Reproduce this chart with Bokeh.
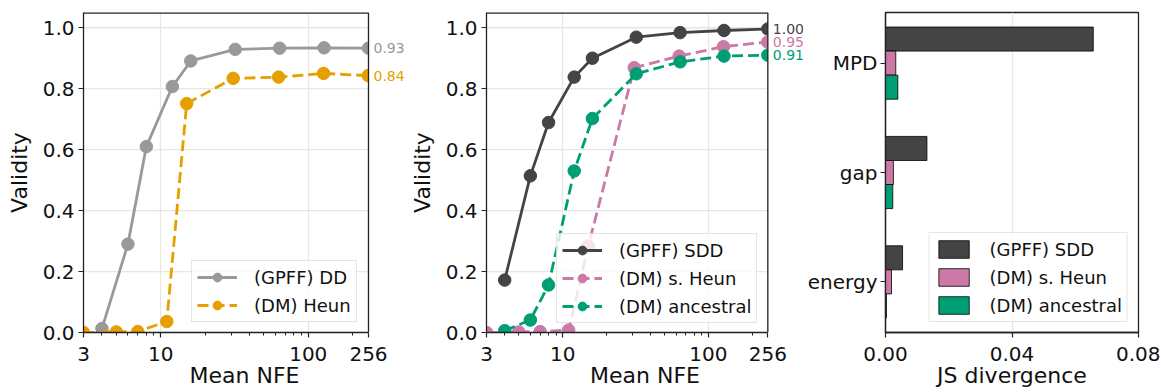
from bokeh.plotting import figure
from bokeh.models import (FixedTicker, NumeralTickFormatter, PrintfTickFormatter,
                          Range1d, Label, Span, BoxAnnotation)
from bokeh.layouts import row
from bokeh.embed import file_html
from bokeh.resources import INLINE
import numpy as np

# ---------------- data ----------------
nfe_gpff = [4, 6, 8, 12, 16, 32, 64, 128, 256]
nfe_heun = [3, 5, 7, 11, 15, 31, 63, 127, 255]
val_dd = [0.013, 0.29, 0.61, 0.807, 0.891, 0.929, 0.933, 0.934, 0.933]
val_heun = [0.0, 0.002, 0.003, 0.036, 0.751, 0.834, 0.838, 0.850, 0.843]

nfe_sdd = [4, 6, 8, 12, 16, 32, 64, 128, 256]
nfe_sheun = [3, 5, 7, 11, 15, 31, 63, 127, 255]
nfe_anc = [4, 6, 8, 12, 16, 32, 64, 128, 256]
val_sdd = [0.172, 0.514, 0.689, 0.838, 0.900, 0.969, 0.984, 0.991, 0.996]
val_sheun = [0.0, 0.002, 0.003, 0.008, 0.284, 0.869, 0.907, 0.938, 0.953]
val_anc = [0.006, 0.041, 0.156, 0.530, 0.702, 0.849, 0.888, 0.907, 0.910]

metrics = ["energy", "gap", "MPD"]
js_sdd = [0.0054, 0.0131, 0.0657]
js_sheun = [0.0019, 0.0025, 0.00325]
js_anc = [0.0003, 0.0023, 0.0039]

x_min, x_max = 3, 256
x_ticks = [3, 10, 100, 256]
x_minor = [4, 5, 6, 7, 8, 9, 20, 30, 40, 50, 60, 70, 80, 90, 200]
y_min, y_max = 0.0, 1.05
y_ticks = [0.0, 0.2, 0.4, 0.6, 0.8, 1.0]
js_ticks = [0.0, 0.04, 0.08]

# ---------------- style ----------------
FONT = "DejaVu Sans"
C_DD = "#999999"
C_HEUN = "#E69F00"
C_SDD = "#444444"
C_PINK = "#CC79A7"
C_GREEN = "#009E73"
SPINE = "#222222"
GRID = "#e6e6e6"
TXT = "#111111"
H = 391
TOP = 12
BOTTOM = 59
DASH = "11 5"


def style(p):
    p.axis.axis_line_color = SPINE
    p.axis.axis_line_width = 1.3
    p.axis.major_tick_line_color = SPINE
    p.axis.minor_tick_line_color = SPINE
    p.axis.major_tick_line_width = 1.2
    p.axis.minor_tick_line_width = 1.0
    p.axis.major_tick_out = 5
    p.axis.major_tick_in = 0
    p.axis.minor_tick_out = 3
    p.axis.minor_tick_in = 0
    p.axis.major_label_text_font = FONT
    p.axis.major_label_text_font_size = "20px"
    p.axis.major_label_text_color = TXT
    p.axis.axis_label_text_font = FONT
    p.axis.axis_label_text_font_size = "22px"
    p.axis.axis_label_text_font_style = "normal"
    p.axis.axis_label_text_color = TXT
    p.xaxis.major_label_standoff = 9
    p.xaxis.axis_label_standoff = -1
    p.yaxis.major_label_standoff = 4
    p.yaxis.axis_label_standoff = 8
    p.grid.grid_line_color = GRID
    p.grid.grid_line_width = 1.3
    p.background_fill_color = "white"
    p.border_fill_color = "white"


def style_legend(p, loc):
    lg = p.legend[0]
    lg.location = loc
    lg.margin = 10
    lg.padding = 5
    lg.spacing = 6
    lg.glyph_width = 40
    lg.glyph_height = 22
    lg.label_standoff = 17
    lg.label_text_font = FONT
    lg.label_text_font_size = "18px"
    lg.label_text_color = TXT
    lg.border_line_color = "#cccccc"
    lg.border_line_width = 1.3
    lg.background_fill_alpha = 0.8


def validity_fig(width, left, data_px, label_px):
    # frame extends right of the last tick to host the end labels
    x_end = x_max * (x_max / x_min) ** (label_px / data_px)
    right = width - left - data_px - label_px
    p = figure(width=width, height=H, x_axis_type="log",
               x_range=Range1d(x_min, x_end), y_range=Range1d(y_min, y_max),
               output_backend="svg", toolbar_location=None,
               min_border_left=left, min_border_right=right,
               min_border_top=TOP, min_border_bottom=BOTTOM)
    style(p)
    p.outline_line_color = None
    p.xaxis.bounds = (x_min, x_max)
    p.xaxis.ticker = FixedTicker(ticks=x_ticks, minor_ticks=x_minor)
    p.xaxis.formatter = NumeralTickFormatter(format="0")
    p.xgrid.ticker = FixedTicker(ticks=x_ticks)
    p.yaxis.ticker = FixedTicker(ticks=y_ticks)
    p.yaxis.formatter = PrintfTickFormatter(format="%.1f")
    p.ygrid.visible = False
    # horizontal grid lines limited to the data area
    p.segment(x0=[x_min] * len(y_ticks), x1=[x_max] * len(y_ticks),
              y0=y_ticks, y1=y_ticks, line_color=GRID, line_width=1.3,
              level="underlay")
    p.xaxis.axis_label = "Mean NFE"
    p.yaxis.axis_label = "Validity"
    return p


def series(p, x, y, color, label, dash="solid"):
    p.line(x, y, line_color=color, line_width=2.8, line_dash=dash,
           legend_label=label)
    p.scatter(x, y, size=12.5, fill_color=color, line_color=color,
              legend_label=label)


def finish(p, ends):
    # mask beyond the right spine, then the spines, then end labels
    p.add_layout(BoxAnnotation(left=x_max, fill_color="white", fill_alpha=1.0,
                               line_alpha=0.0))
    p.add_layout(Span(location=x_max, dimension="height", line_color=SPINE,
                      line_width=1.3))
    p.segment(x0=[x_min], x1=[x_max], y0=[y_max], y1=[y_max],
              line_color=SPINE, line_width=2.6)
    for y, color in ends:
        p.add_layout(Label(x=x_max, y=y[-1], x_offset=5, text=f"{y[-1]:.2f}",
                           text_baseline="middle", text_align="left",
                           text_font=FONT, text_font_size="14px",
                           text_color=color))


# ---------------- panel 1 ----------------
p1 = validity_fig(406, 83, 285, 37)
series(p1, nfe_gpff, val_dd, C_DD, "(GPFF) DD")
series(p1, nfe_heun, val_heun, C_HEUN, "(DM) Heun", dash=DASH)
finish(p1, [(val_dd, C_DD), (val_heun, C_HEUN)])
style_legend(p1, (108, 10))

# ---------------- panel 2 ----------------
p2 = validity_fig(398, 77, 284, 36)
series(p2, nfe_sdd, val_sdd, C_SDD, "(GPFF) SDD")
series(p2, nfe_sheun, val_sheun, C_PINK, "(DM) s. Heun", dash=DASH)
series(p2, nfe_anc, val_anc, C_GREEN, "(DM) ancestral", dash=DASH)
finish(p2, [(val_sdd, C_SDD), (val_sheun, C_PINK), (val_anc, C_GREEN)])
style_legend(p2, (70, 9))

# ---------------- panel 3 ----------------
p3 = figure(width=356, height=H, x_range=Range1d(0, 0.08),
            y_range=Range1d(-0.463, 2.463),
            output_backend="svg", toolbar_location=None,
            min_border_left=78, min_border_right=22,
            min_border_top=TOP, min_border_bottom=BOTTOM)
style(p3)
p3.outline_line_color = SPINE
p3.outline_line_width = 1.3
ypos = np.arange(len(metrics))
bh = 0.22
p3.hbar(y=ypos + bh, left=0, right=js_sdd, height=bh, fill_color=C_SDD,
        line_color="black", line_width=0.8, legend_label="(GPFF) SDD")
p3.hbar(y=ypos, left=0, right=js_sheun, height=bh, fill_color=C_PINK,
        line_color="black", line_width=0.8, legend_label="(DM) s. Heun")
p3.hbar(y=ypos - bh, left=0, right=js_anc, height=bh, fill_color=C_GREEN,
        line_color="black", line_width=0.8, legend_label="(DM) ancestral")
p3.xaxis.ticker = FixedTicker(ticks=js_ticks)
p3.xaxis.formatter = PrintfTickFormatter(format="%.2f")
p3.xgrid.ticker = FixedTicker(ticks=js_ticks)
p3.ygrid.visible = False
p3.yaxis.ticker = FixedTicker(ticks=list(ypos))
p3.yaxis.major_label_overrides = {int(i): m for i, m in zip(ypos, metrics)}
p3.yaxis.major_label_standoff = 3
p3.xaxis.axis_label = "JS divergence"
style_legend(p3, "bottom_right")
p3.legend[0].glyph_width = 38

layout = row(p1, p2, p3)
open("out.html", "w").write(file_html(layout, INLINE))
